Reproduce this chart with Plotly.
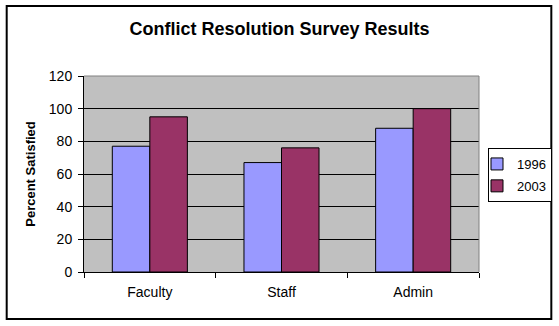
import plotly.graph_objects as go

categories = ["Faculty", "Staff", "Admin"]
series_names = ["1996", "2003"]
values_1996 = [77, 67, 88]
values_2003 = [95, 76, 100]
y_ticks = [0, 20, 40, 60, 80, 100, 120]

colors = {"1996": "#9999FF", "2003": "#993366"}
FONT = "Liberation Sans, Arial, sans-serif"

fig = go.Figure()
for name, vals in zip(series_names, [values_1996, values_2003]):
    fig.add_trace(go.Bar(
        x=categories, y=vals, name=name, legendgroup=name,
        marker=dict(color=colors[name], line=dict(color="black", width=1)),
    ))

fig.update_layout(
    width=559, height=326,
    margin=dict(l=83.5, r=79.5, t=76, b=54, autoexpand=False),
    paper_bgcolor="white",
    plot_bgcolor="#C0C0C0",
    barmode="group", bargap=0.43, bargroupgap=0,
    font=dict(family=FONT, size=14, color="black"),
    title=dict(text="<b>Conflict Resolution Survey Results</b>",
               font=dict(family=FONT, size=18, color="black"),
               x=0.5, xanchor="center", y=1 - 29 / 326, yanchor="middle"),
    showlegend=True,
    legend=dict(xref="container", yref="container",
                x=488 / 559, xanchor="left", y=1 - 148 / 326, yanchor="top",
                bordercolor="black", borderwidth=1, bgcolor="white",
                font=dict(family=FONT, size=13, color="black"),
                itemwidth=30, indentation=-12,
                traceorder="grouped", tracegroupgap=2),
    xaxis=dict(type="category", tickson="boundaries", ticks="outside",
               ticklen=5, tickcolor="black", showline=True, linecolor="black",
               linewidth=1, showgrid=False, ticklabelstandoff=7,
               tickfont=dict(family=FONT, size=14, color="black")),
    yaxis=dict(range=[0, 120], tickvals=y_ticks, ticks="outside", ticklen=5,
               tickcolor="black", showline=True, linecolor="black", linewidth=1,
               showgrid=True, gridcolor="black", gridwidth=1, zeroline=False,
               ticklabelstandoff=3,
               tickfont=dict(family=FONT, size=14, color="black"),
               title=dict(text="<b>Percent Satisfied</b>", standoff=10,
                          font=dict(family=FONT, size=13, color="black"))),
    shapes=[
        dict(type="rect", xref="paper", yref="paper", x0=-83.5 / 396 + 6 / 396,
             x1=1 + (552 - 479.5) / 396, y0=-(319 - 272) / 196, y1=1 + (76 - 6) / 196,
             line=dict(color="black", width=2), layer="below"),
        dict(type="line", xref="paper", yref="paper", x0=0, x1=1, y0=1, y1=1,
             line=dict(color="#808080", width=1), layer="above"),
        dict(type="line", xref="paper", yref="paper", x0=1, x1=1, y0=0, y1=1,
             line=dict(color="#808080", width=1), layer="above"),
    ],
)

fig.write_html("out.html")
